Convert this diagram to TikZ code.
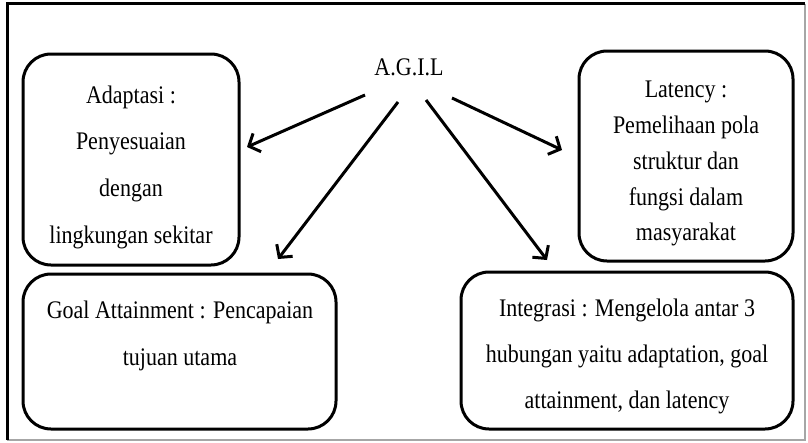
\documentclass[tikz,border=0pt]{standalone}
\usepackage{fontspec}
\setmainfont{Liberation Serif}
\usetikzlibrary{arrows.meta}
\newcommand{\boxtext}[2]{\scalebox{1}[1.15]{\fontsize{22}{#1}\selectfont\begin{tabular}{@{}c@{}}#2\end{tabular}}}
\begin{document}
\begin{tikzpicture}[x=1pt,y=-1pt,
  box/.style={draw=black, line width=3pt, rounded corners=28pt, inner sep=0pt},
  label/.style={inner sep=0pt, text=black},
  arr/.style={line width=3pt, -{Straight Barb[length=9pt,width=20pt]}}]
\useasboundingbox (0,0) rectangle (808,442);
\fill[white] (0,0) rectangle (808,442);
% frame
\draw[gray!70, line width=2pt] (805,4) -- (805,440) -- (7,440);
\draw[black, line width=3pt] (7,440) -- (7,3.5) -- (805,3.5);
% boxes
\node[box, minimum width=216pt, minimum height=211pt] (adapt) at (131,159.5) {};
\node[box, minimum width=313pt, minimum height=155pt] (goal) at (179.5,351.5) {};
\node[box, minimum width=214pt, minimum height=210pt] (laten) at (686,156) {};
\node[box, minimum width=332pt, minimum height=157pt] (integ) at (627,350.5) {};
% texts
\node[label] (agil) at (409,67) {\boxtext{39}{A.G.I.L}};
\node[label] (adaptT) at (131,164) {\boxtext{40.6}{Adaptasi :\\Penyesuaian\\dengan\\lingkungan sekitar}};
\node[label] (goalT) at (180,333) {\boxtext{40.9}{Goal Attainment : Pencapaian\\tujuan utama}};
\node[label] (latenT) at (686,162) {\boxtext{31.2}{Latency :\\Pemelihaan pola\\struktur dan\\fungsi dalam\\masyarakat}};
\node[label] (integT) at (627,353) {\boxtext{40}{Integrasi : Mengelola antar 3\\hubungan yaitu adaptation, goal\\attainment, dan latency}};
% arrow ends
\coordinate (s1) at (365,95);  \coordinate (e1) at (247,147);
\coordinate (s2) at (398,102); \coordinate (e2) at (278,259);
\coordinate (s3) at (452,98);  \coordinate (e3) at (562,150);
\coordinate (s4) at (426,100); \coordinate (e4) at (547,260);
\draw[arr] (s1) -- (e1);
\draw[arr] (s2) -- (e2);
\draw[arr] (s3) -- (e3);
\draw[arr] (s4) -- (e4);
\end{tikzpicture}
\end{document}
